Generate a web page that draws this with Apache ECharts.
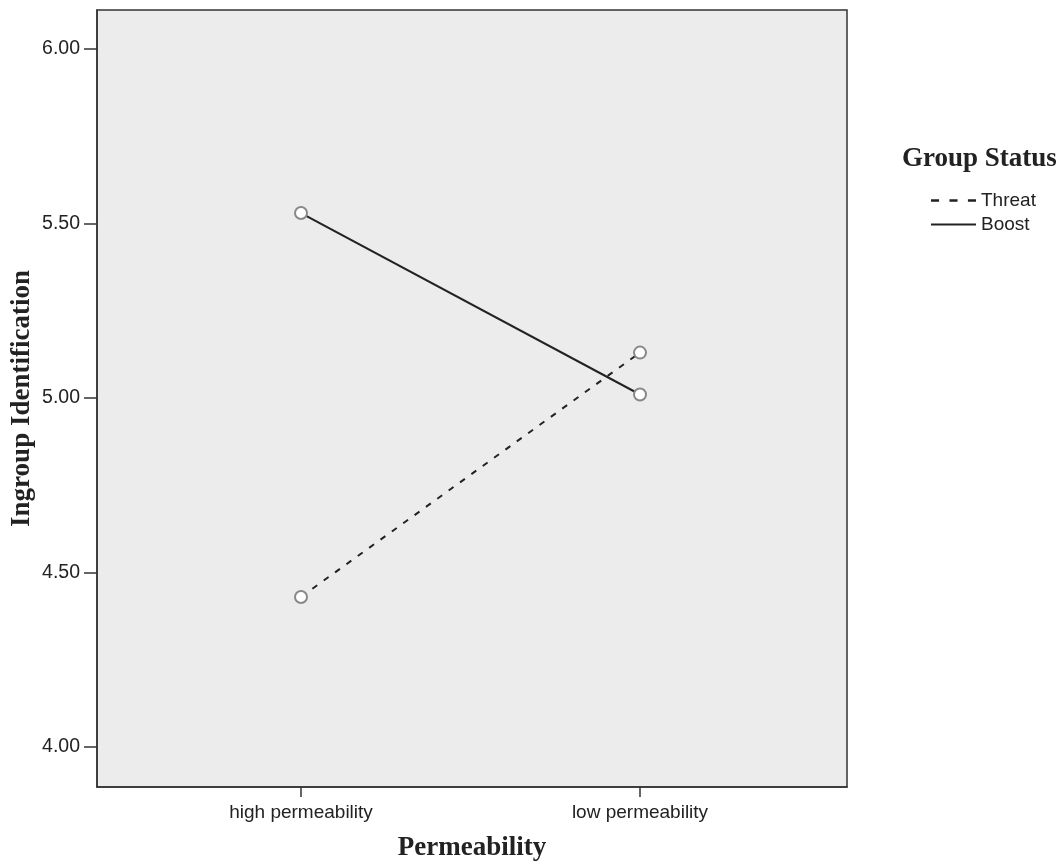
<!DOCTYPE html>
<html><head><meta charset="utf-8">
<script src="https://cdn.jsdelivr.net/npm/echarts@6/dist/echarts.min.js"></script>
<style>html,body{margin:0;padding:0;background:#fff}#c{width:1061px;height:867px}</style>
</head><body><div id="c"></div>
<script>
const categories = ['high permeability', 'low permeability'];
const threatValues = [4.43, 5.13];
const boostValues = [5.53, 5.01];
const yTicks = [4.00, 4.50, 5.00, 5.50, 6.00];
const seriesNames = ['Threat', 'Boost'];

const chart = echarts.init(document.getElementById('c'));
const pair = vals => vals.map((v, i) => [i, v]);
const sans = '"Liberation Sans", Arial, sans-serif';
const serif = '"Liberation Serif", "Times New Roman", serif';
chart.setOption({
  animation: false,
  backgroundColor: '#fff',
  title: {
    text: 'Group Status', left: 897, top: 141,
    textStyle: { fontFamily: serif, fontWeight: 'bold', fontSize: 27, color: '#222' }
  },
  legend: {
    orient: 'vertical', left: 926, top: 186, itemGap: 5,
    itemWidth: 45, itemHeight: 3,
    textStyle: { fontFamily: sans, fontSize: 19, color: '#222' },
    data: [
      { name: 'Threat', icon: 'path://M0,0h7v2h-7z M16,0h7v2h-7z M32,0h7v2h-7z', itemStyle: { color: '#222' } },
      { name: 'Boost', icon: 'path://M0,0h44v2h-44z', itemStyle: { color: '#222' } }
    ]
  },
  grid: { left: 97, right: 214, top: 10, bottom: 80, outerBoundsMode: 'none', containLabel: false, show: true, backgroundColor: '#ececec', borderColor: '#333', borderWidth: 1.5 },
  xAxis: {
    type: 'value', min: -0.6018, max: 1.6106,
    name: 'Permeability', nameLocation: 'middle', nameGap: 48, nameMoveOverlap: false,
    nameTextStyle: { fontFamily: serif, fontWeight: 'bold', fontSize: 27, color: '#222' },
    axisLine: { show: true, onZero: false, lineStyle: { color: '#333', width: 1.5 } },
    axisTick: { show: true, customValues: [0, 1], length: 10, lineStyle: { color: '#333', width: 1.5 } },
    axisLabel: { customValues: [0, 1], formatter: v => categories[Math.round(v)], fontFamily: sans, fontSize: 19, color: '#222', margin: 16 },
    splitLine: { show: false }
  },
  yAxis: {
    type: 'value', min: 3.8854, max: 6.1117,
    name: 'Ingroup Identification', nameLocation: 'middle', nameGap: 61, nameMoveOverlap: false,
    nameTextStyle: { fontFamily: serif, fontWeight: 'bold', fontSize: 27, color: '#222' },
    axisLine: { show: true, onZero: false, lineStyle: { color: '#333', width: 1.5 } },
    axisTick: { show: true, customValues: yTicks, length: 13, lineStyle: { color: '#333', width: 1.5 } },
    axisLabel: { customValues: yTicks, formatter: v => v.toFixed(2), fontFamily: sans, fontSize: 19.5, color: '#222', margin: 17 },
    splitLine: { show: false }
  },
  series: [
    {
      name: seriesNames[0], type: 'line', data: pair(threatValues),
      symbol: 'emptyCircle', symbolSize: 12,
      itemStyle: { color: '#888', borderWidth: 1.5 },
      lineStyle: { color: '#222', width: 2, type: [6, 8] }
    },
    {
      name: seriesNames[1], type: 'line', data: pair(boostValues),
      symbol: 'emptyCircle', symbolSize: 12,
      itemStyle: { color: '#888', borderWidth: 1.5 },
      lineStyle: { color: '#222', width: 2 }
    }
  ]
});
</script></body></html>
